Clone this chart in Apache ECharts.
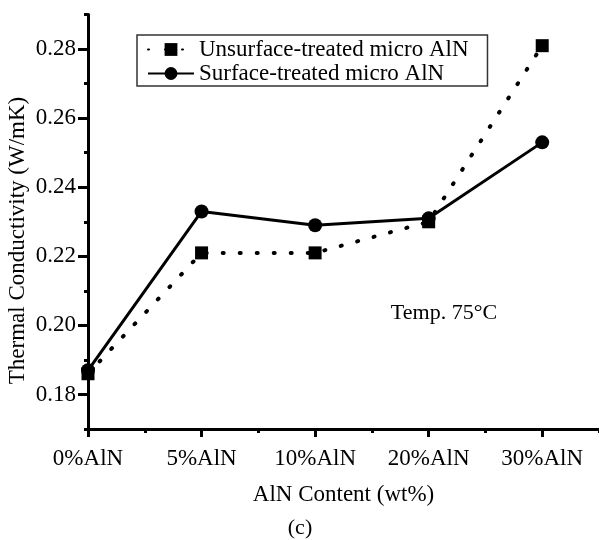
<!DOCTYPE html>
<html>
<head>
<meta charset="utf-8">
<script src="https://cdn.jsdelivr.net/npm/echarts@6/dist/echarts.min.js"></script>
<style>html,body{margin:0;padding:0;background:#fff}#c{width:599px;height:540px}</style>
</head>
<body>
<div id="c"></div>
<script>
var categories = ['0%AlN', '5%AlN', '10%AlN', '20%AlN', '30%AlN'];
var unsurfaceValues = [0.186, 0.221, 0.221, 0.230, 0.281];
var surfaceValues = [0.187, 0.233, 0.229, 0.231, 0.253];
var yTickLabels = [0.18, 0.20, 0.22, 0.24, 0.26, 0.28];
var yMinorTicks = [0.17, 0.19, 0.21, 0.23, 0.25, 0.27, 0.29];
var xMajorTicks = [0, 1, 2, 3, 4];
var xMinorTicks = [0.5, 1.5, 2.5, 3.5, 4.5];

var FONT = 'Liberation Serif';
function pairs(vals) { return vals.map(function (v, i) { return [i, v]; }); }

var chart = echarts.init(document.getElementById('c'), null, { renderer: 'canvas' });
chart.setOption({
  animation: false,
  backgroundColor: '#fff',
  grid: { left: 88, right: -2, top: 14.6, bottom: 111, containLabel: false },
  xAxis: [{
    type: 'value', min: 0, max: 4.5,
    axisLine: { show: true, lineStyle: { color: '#000', width: 3 } },
    axisTick: { show: true, customValues: xMajorTicks, length: 8, lineStyle: { color: '#000', width: 3 } },
    axisLabel: {
      customValues: xMajorTicks, margin: 18,
      color: '#000', fontFamily: FONT, fontSize: 23,
      formatter: function (v) { return categories[Math.round(v)]; }
    },
    splitLine: { show: false },
    name: 'AlN Content (wt%)', nameLocation: 'middle', nameGap: 54,
    nameTextStyle: { color: '#000', fontFamily: FONT, fontSize: 23 }
  }, {
    type: 'value', min: 0, max: 4.5, position: 'bottom',
    axisLine: { show: false },
    axisTick: { show: true, customValues: xMinorTicks, length: 4, lineStyle: { color: '#000', width: 3 } },
    axisLabel: { show: false }, splitLine: { show: false }
  }],
  yAxis: [{
    type: 'value', min: 0.17, max: 0.29,
    axisLine: { show: true, lineStyle: { color: '#000', width: 3 } },
    axisTick: { show: true, customValues: yTickLabels, length: 10, lineStyle: { color: '#000', width: 3 } },
    axisLabel: {
      customValues: yTickLabels, margin: 12,
      color: '#000', fontFamily: FONT, fontSize: 23,
      formatter: function (v) { return v.toFixed(2); }
    },
    splitLine: { show: false }
  }, {
    type: 'value', min: 0.17, max: 0.29, position: 'left',
    axisLine: { show: false },
    axisTick: { show: true, customValues: yMinorTicks, length: 4, lineStyle: { color: '#000', width: 3 } },
    axisLabel: { show: false }, splitLine: { show: false }
  }],
  legend: {
    orient: 'vertical', left: 137, top: 35,
    itemWidth: 46, itemHeight: 16, itemGap: 1,
    padding: [3, 19, 1, 10],
    borderColor: '#333', borderWidth: 1.5,
    textStyle: { color: '#000', fontFamily: FONT, fontSize: 23 },
    data: ['Unsurface-treated micro AlN', 'Surface-treated micro AlN']
  },
  series: [{
    name: 'Unsurface-treated micro AlN', type: 'line',
    data: pairs(unsurfaceValues),
    symbol: 'rect', symbolSize: 13,
    itemStyle: { color: '#000' },
    lineStyle: { color: '#000', width: 4, type: [1, 16], cap: 'round' },
    clip: false, z: 3
  }, {
    name: 'Surface-treated micro AlN', type: 'line',
    data: pairs(surfaceValues),
    symbol: 'circle', symbolSize: 14,
    itemStyle: { color: '#000' },
    lineStyle: { color: '#000', width: 3, type: 'solid' },
    clip: false, z: 4
  }],
  graphic: [{
    type: 'text', x: 17.5, y: 240.5, rotation: Math.PI / 2,
    style: { text: 'Thermal Conductivity (W/mK)', fill: '#000', font: '23px "Liberation Serif"', align: 'center', verticalAlign: 'middle' }
  }, {
    type: 'text', x: 444, y: 313,
    style: { text: 'Temp. 75°C', fill: '#000', font: '22px "Liberation Serif"', align: 'center', verticalAlign: 'middle' }
  }, {
    type: 'text', x: 300, y: 528,
    style: { text: '(c)', fill: '#000', font: '22px "Liberation Serif"', align: 'center', verticalAlign: 'middle' }
  }]
});
</script>
</body>
</html>
